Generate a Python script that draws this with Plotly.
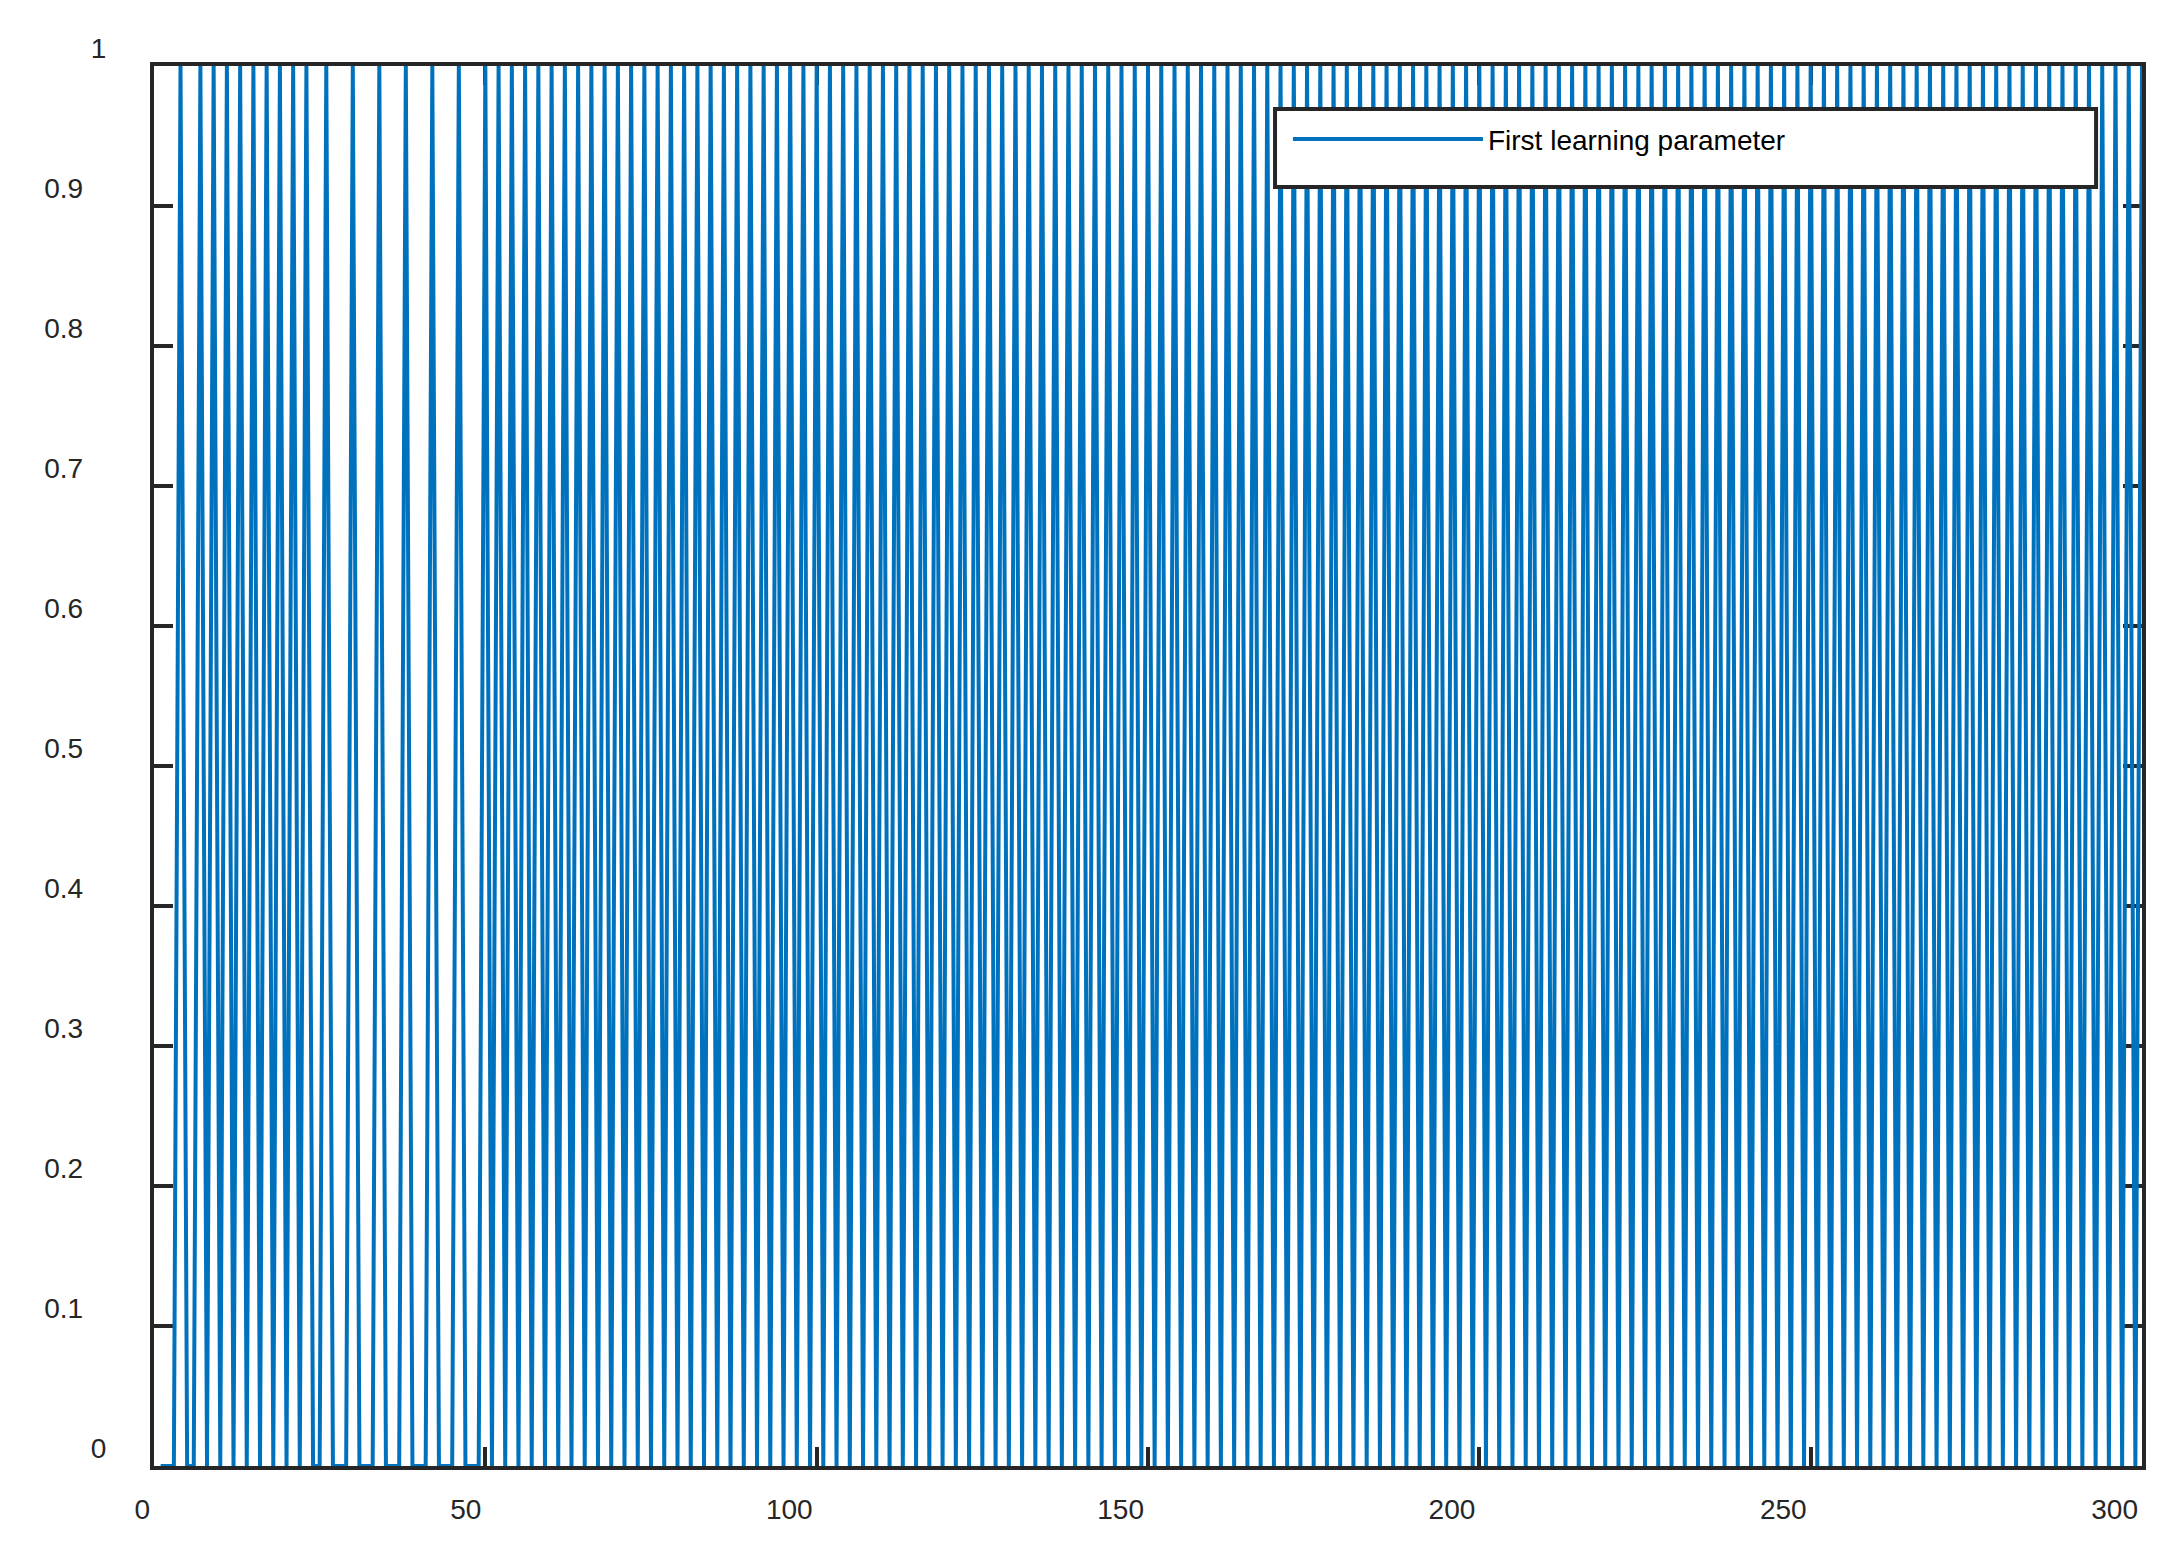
import plotly.graph_objects as go

# ---- data ----
sample_index = list(range(1, 301))
first_learning_parameter = [
    0, 0, 0, 1, 0, 0, 1, 0, 1, 0,   # 1-10
    1, 0, 1, 0, 1, 0, 1, 0, 1, 0,   # 11-20
    1, 0, 1, 0, 0, 1, 0, 0, 0, 1,   # 21-30
    0, 0, 0, 1, 0, 0, 0, 1, 0, 0,   # 31-40
    0, 1, 0, 0, 0, 1, 0, 0, 0, 1,   # 41-50
    0, 1, 0, 1, 0, 1, 0, 1, 0, 1,   # 51-60
    0, 1, 0, 1, 0, 1, 0, 1, 0, 1,   # 61-70
    0, 1, 0, 1, 0, 1, 0, 1, 0, 1,   # 71-80
    0, 1, 0, 1, 0, 1, 0, 1, 0, 1,   # 81-90
    0, 1, 0, 1, 0, 1, 0, 1, 0, 1,   # 91-100
    0, 1, 0, 1, 0, 1, 0, 1, 0, 1,   # 101-110
    0, 1, 0, 1, 0, 1, 0, 1, 0, 1,   # 111-120
    0, 1, 0, 1, 0, 1, 0, 1, 0, 1,   # 121-130
    0, 1, 0, 1, 0, 1, 0, 1, 0, 1,   # 131-140
    0, 1, 0, 1, 0, 1, 0, 1, 0, 1,   # 141-150
    0, 1, 0, 1, 0, 1, 0, 1, 0, 1,   # 151-160
    0, 1, 0, 1, 0, 1, 0, 1, 0, 1,   # 161-170
    0, 1, 0, 1, 0, 1, 0, 1, 0, 1,   # 171-180
    0, 1, 0, 1, 0, 1, 0, 1, 0, 1,   # 181-190
    0, 1, 0, 1, 0, 1, 0, 1, 0, 1,   # 191-200
    0, 1, 0, 1, 0, 1, 0, 1, 0, 1,   # 201-210
    0, 1, 0, 1, 0, 1, 0, 1, 0, 1,   # 211-220
    0, 1, 0, 1, 0, 1, 0, 1, 0, 1,   # 221-230
    0, 1, 0, 1, 0, 1, 0, 1, 0, 1,   # 231-240
    0, 1, 0, 1, 0, 1, 0, 1, 0, 1,   # 241-250
    0, 1, 0, 1, 0, 1, 0, 1, 0, 1,   # 251-260
    0, 1, 0, 1, 0, 1, 0, 1, 0, 1,   # 261-270
    0, 1, 0, 1, 0, 1, 0, 1, 0, 1,   # 271-280
    0, 1, 0, 1, 0, 1, 0, 1, 0, 1,   # 281-290
    0, 1, 0, 1, 0, 1, 0, 1, 0, 1,   # 291-300
]
series_name = "First learning parameter"

x_tick_values = [0, 50, 100, 150, 200, 250, 300]
x_tick_labels = ["0", "50", "100", "150", "200", "250", "300"]
y_tick_values = [0, 0.1, 0.2, 0.3, 0.4, 0.5, 0.6, 0.7, 0.8, 0.9, 1]
y_tick_labels = ["0", "0.1", "0.2", "0.3", "0.4", "0.5", "0.6", "0.7", "0.8", "0.9", "1"]

# ---- style ----
LINE_BLUE = "#0072BD"
AXIS_GREY = "#262626"
FONT = "Liberation Sans, Arial, sans-serif"
NBSP = "\u00a0"

# MATLAB-like label offsets: the decimal labels sit further from the axis
y_text = [t if len(t) == 1 else t + NBSP * 3 for t in y_tick_labels]

fig = go.Figure()
fig.add_trace(go.Scatter(
    x=sample_index,
    y=first_learning_parameter,
    mode="lines",
    name=series_name,
    line=dict(color=LINE_BLUE, width=4),
))

axis_common = dict(
    showline=True, linewidth=4, linecolor=AXIS_GREY,
    ticks="inside", ticklen=19, tickwidth=4, tickcolor=AXIS_GREY,
    mirror="allticks", showgrid=False, zeroline=False,
    layer="below traces",
    tickfont=dict(family=FONT, size=28, color=AXIS_GREY),
)

# page body has an 8px margin, so the figure is 8px smaller than the window
fig.update_layout(
    width=2161, height=1536,
    paper_bgcolor="white", plot_bgcolor="white",
    margin=dict(l=146, r=27, t=58, b=78, autoexpand=False),
    xaxis=dict(
        range=[0, 300], tickmode="array",
        tickvals=x_tick_values, ticktext=x_tick_labels,
        ticklabelposition="outside left",
        ticklabelstandoff=15,
        **axis_common,
    ),
    yaxis=dict(
        range=[0, 1], tickmode="array",
        tickvals=y_tick_values, ticktext=y_text,
        ticklabelshift=-18,
        ticklabelstandoff=38,
        **axis_common,
    ),
    showlegend=True,
    legend=dict(
        x=0.5704, y=0.9655, xanchor="left", yanchor="top",
        bgcolor="rgba(0,0,0,0)", borderwidth=0,
        itemwidth=190,
        font=dict(family=FONT, size=28, color="black"),
    ),
    shapes=[dict(
        type="rect", xref="paper", yref="paper",
        x0=0.5639, x1=0.9769, y0=0.9136, y1=0.9693,
        line=dict(color=AXIS_GREY, width=4), fillcolor="white", layer="above",
    )],
)

fig.write_html("out.html")
